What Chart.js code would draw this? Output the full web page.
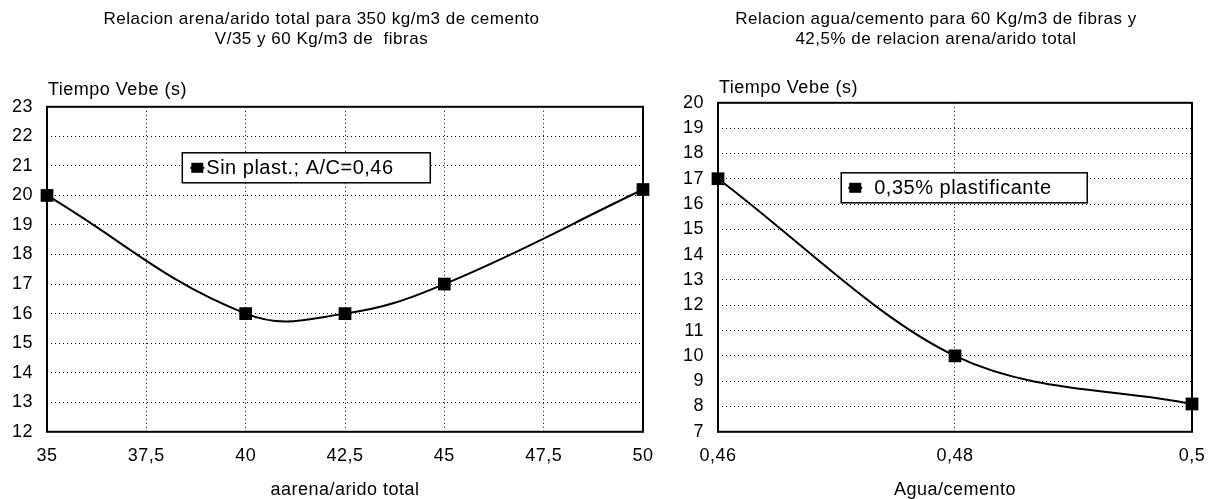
<!DOCTYPE html>
<html>
<head>
<meta charset="utf-8">
<script src="https://cdn.jsdelivr.net/npm/chart.js@4/dist/chart.umd.min.js"></script>
<style>
  html, body { margin: 0; padding: 0; background: #fff; }
  #wrap { position: relative; width: 1213px; height: 499px; }
  #left { position: absolute; left: 0; top: 0; }
  #right { position: absolute; left: 680px; top: 0; }
</style>
</head>
<body>
<div id="wrap">
  <canvas id="left" width="680" height="499"></canvas>
  <canvas id="right" width="533" height="499"></canvas>
</div>
<script>
// Left chart: arena/arido total vs tiempo Vebe
const sandRatio = [35, 40, 42.5, 45, 50];
const vebeSinPlast = [20, 16, 16, 17, 20.2];
const sandTicks = [35, 37.5, 40, 42.5, 45, 47.5, 50];

// Right chart: agua/cemento vs tiempo Vebe
const waterCement = [0.46, 0.48, 0.5];
const vebePlast = [17, 10, 8.1];
const wcTicks = [0.46, 0.48, 0.5];

const FONT = 'Liberation Sans, Arial, sans-serif';
Chart.defaults.font.family = FONT;
Chart.defaults.color = '#000';

const comma = v => String(v).replace('.', ',');

// frame around plot area, y axis caption and an inside legend box
const decor = {
  id: 'decor',
  afterDatasetsDraw(chart, args, opts) {
    const { ctx, chartArea: a } = chart;
    ctx.save();
    ctx.strokeStyle = '#000';
    ctx.lineWidth = 2;
    ctx.strokeRect(a.left, a.top, a.right - a.left, a.bottom - a.top);

    ctx.font = '18px ' + FONT;
    ctx.fillStyle = '#000';
    ctx.textBaseline = 'middle';
    ctx.fillText(opts.yTitle, a.left + 1, a.top - opts.ty);

    const bx = a.left + opts.lx * (a.right - a.left);
    const by = a.top + opts.ly;
    ctx.fillStyle = '#fff';
    ctx.fillRect(bx, by, opts.lw, 30);
    ctx.lineWidth = 1.5;
    ctx.strokeRect(bx, by, opts.lw, 30);
    ctx.fillStyle = '#000';
    ctx.lineWidth = 2;
    ctx.beginPath();
    ctx.moveTo(bx + opts.mx - 7, by + 15);
    ctx.lineTo(bx + opts.mx + 7, by + 15);
    ctx.stroke();
    ctx.fillRect(bx + opts.mx - 6, by + 10, 12, 10);
    ctx.font = '20px ' + FONT;
    ctx.fillText(chart.data.datasets[0].label, bx + opts.tx, by + 16);
    ctx.restore();
  }
};

function makeChart(id, xs, ys, label, xTicks, yMin, yMax, title, xTitle, yWidth, padRight, padTitle, interp, legend) {
  const chart = new Chart(document.getElementById(id), {
    type: 'line',
    data: {
      datasets: [{
        label,
        data: xs.map((x, i) => ({ x, y: ys[i] })),
        borderColor: '#000',
        backgroundColor: '#000',
        borderWidth: 2,
        pointStyle: 'rect',
        pointRadius: 9,
        pointBorderWidth: 0,
        tension: 0.4,
        cubicInterpolationMode: interp,
        clip: false
      }]
    },
    options: {
      responsive: false,
      animation: false,
      layout: { padding: { left: 0, right: padRight, top: 0, bottom: 0 } },
      plugins: {
        legend: { display: false },
        tooltip: { enabled: false },
        title: {
          display: true,
          text: title,
          font: { size: 17, weight: 'normal', lineHeight: 1.2 },
          padding: { top: 9, bottom: padTitle }
        },
        decor: legend
      },
      scales: {
        x: {
          type: 'linear',
          min: xTicks[0],
          max: xTicks[xTicks.length - 1],
          afterBuildTicks: s => { s.ticks = xTicks.map(v => ({ value: v })); },
          afterFit: s => { s.paddingLeft = 0; s.paddingRight = 0; },
          grid: { color: '#000', lineWidth: 1, drawTicks: false },
          border: { display: false, dash: [1, 3] },
          ticks: { font: { size: 18 }, padding: 13, maxRotation: 0, callback: v => comma(v) },
          title: { display: true, text: xTitle, font: { size: 18 }, padding: { top: 0, bottom: -2 } }
        },
        y: {
          min: yMin,
          max: yMax,
          afterFit: s => { s.width = yWidth; },
          grid: { color: '#000', lineWidth: 1, drawTicks: false },
          border: { display: false, dash: [1, 3] },
          ticks: { stepSize: 1, font: { size: 18 }, padding: 14 }
        }
      }
    },
    plugins: [decor]
  });
  chart.ctx.letterSpacing = '0.5px';
  chart.update();
  return chart;
}

makeChart('left', sandRatio, vebeSinPlast, 'Sin plast.; A/C=0,46', sandTicks, 12, 23,
  ['Relacion arena/arido total para 350 kg/m3 de cemento', 'V/35 y 60 Kg/m3 de  fibras'],
  'aarena/arido total', 47, 37, 57, 'default',
  { yTitle: 'Tiempo Vebe (s)', ty: 17, lx: 0.227, ly: 46, lw: 248, mx: 15, tx: 24 });

makeChart('right', waterCement, vebePlast, '0,35% plastificante', wcTicks, 7, 20,
  ['Relacion agua/cemento para 60 Kg/m3 de fibras y', '42,5% de relacion arena/arido total'],
  'Agua/cemento', 38, 21, 53, 'monotone',
  { yTitle: 'Tiempo Vebe (s)', ty: 15, lx: 0.26, ly: 70, lw: 246, mx: 14, tx: 33 });
</script>
</body>
</html>
